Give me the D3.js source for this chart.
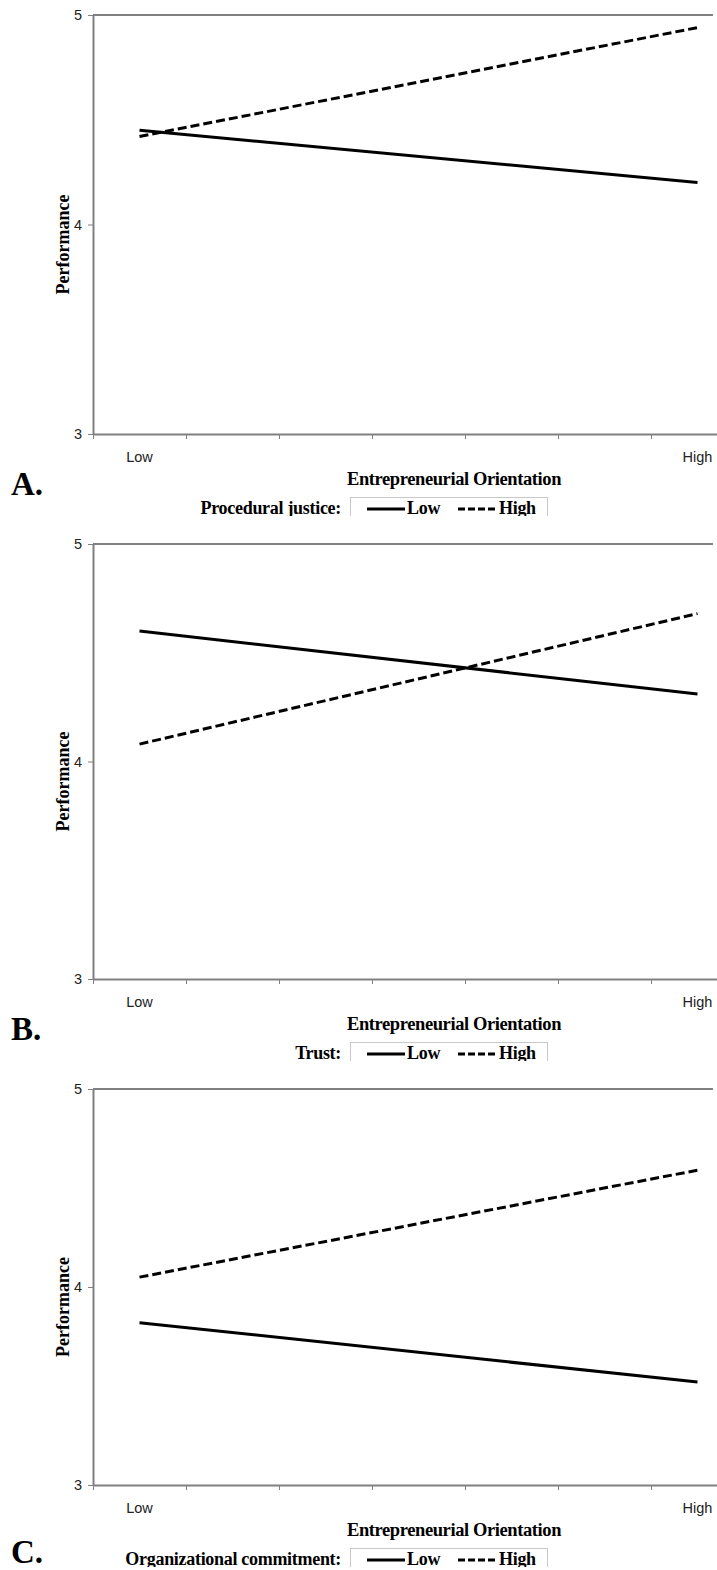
<!DOCTYPE html>
<html>
<head>
<meta charset="utf-8">
<script src="https://cdn.jsdelivr.net/npm/d3@7"></script>
<style>
  body { margin: 0; background: #fff; }
  svg { display: block; }
</style>
</head>
<body>
<div id="chart-area"></div>
<script>
    // values (Low / High entrepreneurial orientation)
    var levels = ['Low', 'High'];
    var yTicks = [3, 4, 5];

    var procLow = [4.45, 4.20];
    var procHigh = [4.42, 4.94];
    var trustLow = [4.60, 4.31];
    var trustHigh = [4.08, 4.68];
    var commitLow = [3.82, 3.52];
    var commitHigh = [4.05, 4.59];

    var moderators = ['Procedural justice:', 'Trust:', 'Organizational commitment:'];
    var letters = ['A.', 'B.', 'C.'];

    var W = 717, H = 1570;
    var svg = d3.select('#chart-area')
        .append('svg')
        .attr('width', W)
        .attr('height', H);

    // layout of each panel (pixels)
    var panels = [
      { top: 15, bottom: 434, low: procLow, high: procHigh, letterY: 495, legendY: 497 },
      { top: 544, bottom: 979, low: trustLow, high: trustHigh, letterY: 1040, legendY: 1042 },
      { top: 1089, bottom: 1485, low: commitLow, high: commitHigh, letterY: 1563, legendY: 1548 }
    ];

    var grey = '#808080';
    var serif = '"Liberation Serif", "Times New Roman", serif';
    var sans = '"Liberation Sans", Arial, sans-serif';

    // 7 category slots, lines drawn at the centre of the first and last one
    var xScale = d3.scaleLinear().domain([0, 7]).range([93, 744]);
    var xPos = [0.5, 6.5];

    panels.forEach(function(p, i) {
      var g = svg.append('g');

      var yScale = d3.scaleLinear().domain([3, 5]).range([p.bottom, p.top]);

      // plot area top border
      g.append('line')
        .attr('x1', xScale(0)).attr('x2', 713)
        .attr('y1', p.top).attr('y2', p.top)
        .attr('stroke', grey).attr('stroke-width', 2);

      var yAxisCall = d3.axisLeft(yScale)
        .tickValues(yTicks)
        .tickSize(5)
        .tickSizeOuter(0)
        .tickPadding(6)
        .tickFormat(d3.format('d'));
      var yAxis = g.append('g')
        .attr('transform', 'translate(' + xScale(0) + ',0)')
        .call(yAxisCall);

      var xAxisCall = d3.axisBottom(xScale)
        .tickValues(d3.range(0, 8))
        .tickSize(5)
        .tickSizeOuter(0)
        .tickFormat('');
      var xAxis = g.append('g')
        .attr('transform', 'translate(0,' + p.bottom + ')')
        .call(xAxisCall);

      [yAxis, xAxis].forEach(function(a) {
        a.select('.domain').attr('stroke', grey).attr('stroke-width', 2);
        a.selectAll('.tick line').attr('stroke', grey).attr('stroke-width', 1);
        a.selectAll('.tick text')
          .attr('fill', '#222')
          .style('font-family', sans)
          .style('font-size', '14.5px');
      });

      // Low / High category labels
      g.selectAll('.cat')
        .data(levels)
        .enter()
        .append('text')
        .attr('x', function(d, k) { return xScale(xPos[k]); })
        .attr('y', p.bottom + 28)
        .attr('text-anchor', 'middle')
        .style('font-family', sans)
        .style('font-size', '14.5px')
        .attr('fill', '#222')
        .text(function(d) { return d; });

      // axis titles
      g.append('text')
        .attr('x', 454)
        .attr('y', p.bottom + 51)
        .attr('text-anchor', 'middle')
        .style('font-family', serif)
        .style('font-weight', 'bold')
        .style('font-size', '18.5px')
        .style('letter-spacing', '-0.4px')
        .text('Entrepreneurial Orientation');

      g.append('text')
        .attr('transform', 'translate(69,' + ((p.top + p.bottom) / 2 + 20) + ') rotate(-90)')
        .attr('text-anchor', 'middle')
        .style('font-family', serif)
        .style('font-weight', 'bold')
        .style('font-size', '18px')
        .text('Performance');

      // the two regression lines
      var line = d3.line()
        .x(function(d, k) { return xScale(xPos[k]); })
        .y(function(d) { return yScale(d); });

      g.append('path')
        .attr('d', line(p.low))
        .attr('fill', 'none')
        .attr('stroke', '#000')
        .attr('stroke-width', 3);

      g.append('path')
        .attr('d', line(p.high))
        .attr('fill', 'none')
        .attr('stroke', '#000')
        .attr('stroke-width', 3)
        .attr('stroke-dasharray', '9,4');

      // panel letter
      g.append('text')
        .attr('x', 11)
        .attr('y', p.letterY)
        .style('font-family', serif)
        .style('font-weight', 'bold')
        .style('font-size', '33px')
        .text(letters[i]);

      // legend, cut off at the bottom like in the source
      var clipId = 'legclip' + i;
      svg.append('clipPath')
        .attr('id', clipId)
        .append('rect')
        .attr('x', 0).attr('y', p.legendY - 4)
        .attr('width', W).attr('height', 23);

      var legend = g.append('g').attr('clip-path', 'url(#' + clipId + ')');

      legend.append('rect')
        .attr('x', 350.5).attr('y', p.legendY + 0.5)
        .attr('width', 197).attr('height', 40)
        .attr('fill', '#fff')
        .attr('stroke', '#c8c8c8');

      var ly = p.legendY + 17;
      legend.append('text')
        .attr('x', 341)
        .attr('y', ly)
        .attr('text-anchor', 'end')
        .style('font-family', serif)
        .style('font-weight', 'bold')
        .style('font-size', '18px')
        .style('letter-spacing', '-0.3px')
        .text(moderators[i]);

      var legendItems = [
        { label: levels[0], x1: 367, x2: 405, tx: 407, dash: null },
        { label: levels[1], x1: 458, x2: 498, tx: 499, dash: '7,3' }
      ];
      legendItems.forEach(function(it) {
        legend.append('line')
          .attr('x1', it.x1).attr('x2', it.x2)
          .attr('y1', ly - 5).attr('y2', ly - 5)
          .attr('stroke', '#000')
          .attr('stroke-width', 3)
          .attr('stroke-dasharray', it.dash);
        legend.append('text')
          .attr('x', it.tx)
          .attr('y', ly)
          .style('font-family', serif)
          .style('font-weight', 'bold')
          .style('font-size', '18px')
          .style('letter-spacing', '-0.3px')
          .text(it.label);
      });
    });
</script>
</body>
</html>
